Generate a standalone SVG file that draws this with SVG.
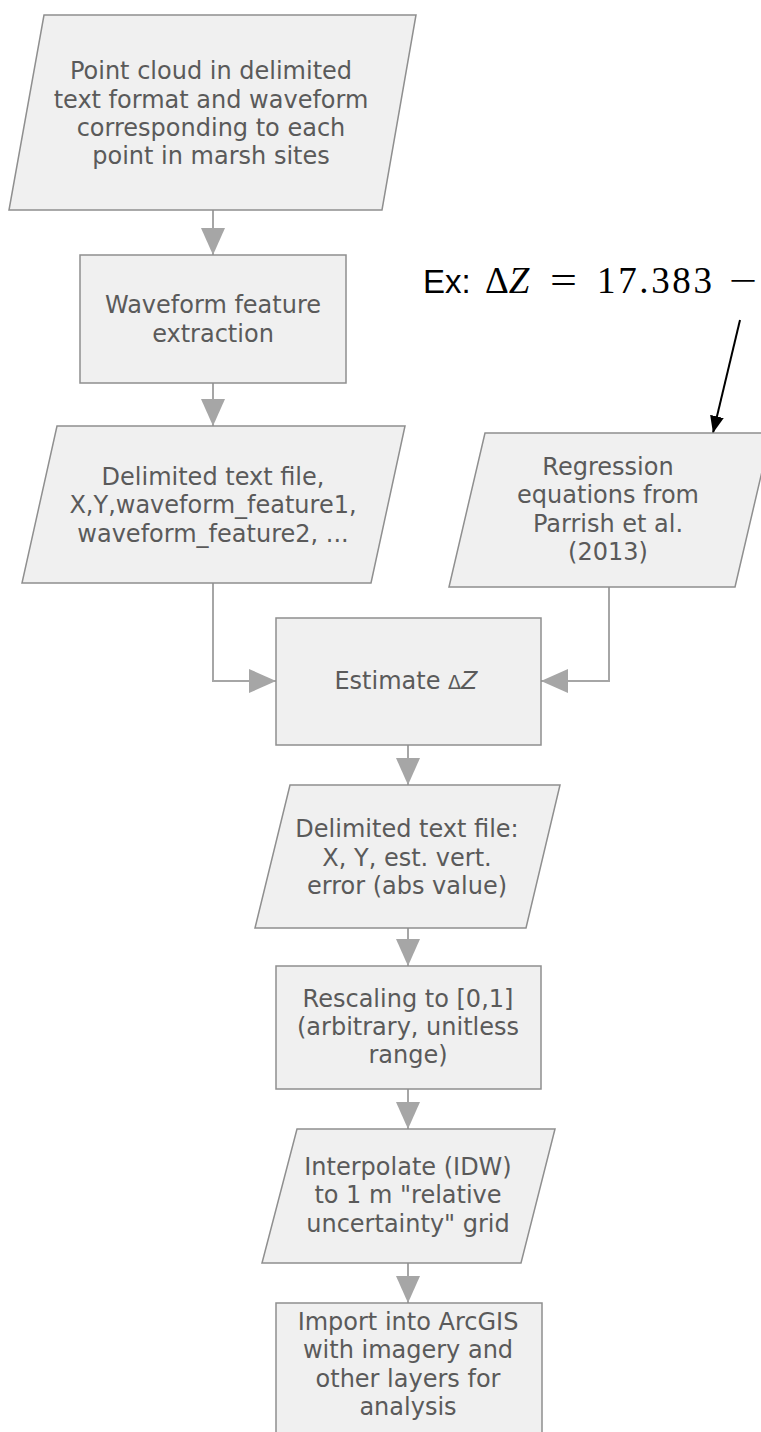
<svg xmlns="http://www.w3.org/2000/svg" width="761" height="1432" viewBox="0 0 761 1432">
<style>
.n{fill:#f0f0f0;stroke:#8f8f8f;stroke-width:1.5}
.t{font-family:"DejaVu Sans","Verdana",sans-serif;font-size:24px;fill:#5a5a5a;text-anchor:middle}
.c{fill:none;stroke:#a6a6a6;stroke-width:2}
.ex{font-family:"Liberation Sans",Arial,sans-serif;font-size:33px;fill:#000}
.m{font-family:"Liberation Serif","Times New Roman",serif;font-size:37px;fill:#000}
</style>
<defs>
<marker id="ah" viewBox="0 0 27 24" refX="27" refY="12" markerWidth="27" markerHeight="24" markerUnits="userSpaceOnUse" orient="auto">
<path d="M0,0 L27,12 L0,24 Z" fill="#a6a6a6"/>
</marker>
<marker id="bh" viewBox="0 0 17 14" refX="17" refY="7" markerWidth="17" markerHeight="14" markerUnits="userSpaceOnUse" orient="auto">
<path d="M0,0 L17,7 L0,14 Z" fill="#000"/>
</marker>
</defs>
<g id="connectors">
<path class="c" d="M213,210 V255" marker-end="url(#ah)"/>
<path class="c" d="M213,383 V426" marker-end="url(#ah)"/>
<path class="c" d="M213,583 V681 H276" marker-end="url(#ah)"/>
<path class="c" d="M609,587 V681 H541" marker-end="url(#ah)"/>
<path class="c" d="M408,745 V785" marker-end="url(#ah)"/>
<path class="c" d="M408,928 V966" marker-end="url(#ah)"/>
<path class="c" d="M408,1089 V1129" marker-end="url(#ah)"/>
<path class="c" d="M408,1263 V1303" marker-end="url(#ah)"/>
<path d="M740,320 L713,433" stroke="#000" stroke-width="2" fill="none" marker-end="url(#bh)"/>
</g>
<g id="node1">
<polygon class="n" points="44,15 416,15 382,210 9,210"/>
<text class="t" x="211" y="79">Point cloud in delimited</text>
<text class="t" x="211" y="108">text format and waveform</text>
<text class="t" x="211" y="136">corresponding to each</text>
<text class="t" x="211" y="164">point in marsh sites</text>
</g>
<g id="node2">
<rect class="n" x="80" y="255" width="266" height="128"/>
<text class="t" x="213" y="313">Waveform feature</text>
<text class="t" x="213" y="342">extraction</text>
</g>
<g id="node3">
<polygon class="n" points="57,426 405,426 371,583 22,583"/>
<text class="t" x="213" y="485">Delimited text file,</text>
<text class="t" x="213" y="513">X,Y,waveform_feature1,</text>
<text class="t" x="213" y="542">waveform_feature2, ...</text>
</g>
<g id="node4">
<polygon class="n" points="485,433 771,433 735,587 449,587"/>
<text class="t" x="608" y="475">Regression</text>
<text class="t" x="608" y="503">equations from</text>
<text class="t" x="608" y="532">Parrish et al.</text>
<text class="t" x="608" y="560">(2013)</text>
</g>
<g id="node5">
<rect class="n" x="276" y="618" width="265" height="127"/>
<text class="t" x="406" y="689">Estimate <tspan font-size="19">Δ</tspan><tspan font-style="italic">Z</tspan></text>
</g>
<g id="node6">
<polygon class="n" points="290,785 560,785 526,928 255,928"/>
<text class="t" x="407" y="837">Delimited text file:</text>
<text class="t" x="407" y="866">X, Y, est. vert.</text>
<text class="t" x="407" y="894">error (abs value)</text>
</g>
<g id="node7">
<rect class="n" x="276" y="966" width="265" height="123"/>
<text class="t" x="408" y="1007">Rescaling to [0,1]</text>
<text class="t" x="408" y="1035">(arbitrary, unitless</text>
<text class="t" x="408" y="1063">range)</text>
</g>
<g id="node8">
<polygon class="n" points="297,1129 555,1129 521,1263 262,1263"/>
<text class="t" x="408" y="1175">Interpolate (IDW)</text>
<text class="t" x="408" y="1203">to 1 m "relative</text>
<text class="t" x="408" y="1232">uncertainty" grid</text>
</g>
<g id="node9">
<rect class="n" x="276" y="1303" width="266" height="140"/>
<text class="t" x="408" y="1330">Import into ArcGIS</text>
<text class="t" x="408" y="1358">with imagery and</text>
<text class="t" x="408" y="1387">other layers for</text>
<text class="t" x="408" y="1415">analysis</text>
</g>
<g id="annotation">
<text class="ex" x="423" y="293">Ex:</text>
<text class="m" x="485" y="293">Δ<tspan font-style="italic">Z</tspan></text>
<text class="m" x="550" y="293" textLength="27" lengthAdjust="spacingAndGlyphs">=</text>
<text class="m" x="597" y="293" textLength="115" lengthAdjust="spacing">17.383</text>
<text class="m" x="729" y="293" textLength="28" lengthAdjust="spacingAndGlyphs">−</text>
</g>
</svg>
